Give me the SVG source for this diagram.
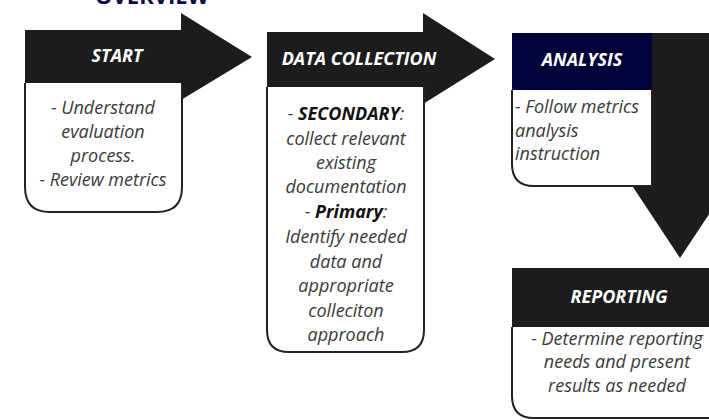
<svg xmlns="http://www.w3.org/2000/svg" width="709" height="420" viewBox="0 0 709 420">
<style>
.arrow{fill:#1c1c1c}
.navy{fill:#02023a}
.box{fill:#fff;stroke:#222;stroke-width:2}
.hd{font-family:"Open Sans","Liberation Sans",sans-serif;font-weight:bold;font-style:italic;font-size:18px;fill:#fff;text-anchor:middle}
.bd{font-family:"Open Sans","Liberation Sans",sans-serif;font-style:italic;font-size:18px;fill:#3a3a3a;text-anchor:middle}
.b{font-weight:bold;fill:#111}
.title{font-family:"Open Sans","Liberation Sans",sans-serif;font-weight:bold;font-size:22px;fill:#0b0b4a}
</style>
<rect width="709" height="420" fill="#fff"/>
<text class="title" x="95" y="4">OVERVIEW</text>
<g id="connectors">
<polygon id="arrow-start" class="arrow" points="25,30 181,30 181,13 252,57 181,100 181,83 25,83"/>
<polygon id="arrow-data" class="arrow" points="267,32 423,32 423,13 495,59 423,104 423,87 267,87"/>
<polygon id="arrow-analysis" class="arrow" points="652,33 709,33 709,187 727,187 680,258 633,187 652,187"/>
</g>
<g id="start">
<path class="box" d="M25,83 V187 Q25,212 50,212 H157 Q182,212 182,187 V83"/>
<text class="hd" x="117" y="62">START</text>
<text class="bd" x="103" y="114">- Understand</text>
<text class="bd" x="103" y="138">evaluation</text>
<text class="bd" x="103" y="162">process.</text>
<text class="bd" x="103" y="186">- Review metrics</text>
</g>
<g id="data-collection">
<path class="box" d="M267,87 V330 Q267,352 289,352 H402 Q424,352 424,330 V87"/>
<text class="hd" x="359" y="65">DATA COLLECTION</text>
<text class="bd" x="346" y="120">- <tspan class="b">SECONDARY</tspan>:</text>
<text class="bd" x="346" y="145">collect relevant</text>
<text class="bd" x="346" y="169">existing</text>
<text class="bd" x="346" y="193">documentation</text>
<text class="bd" x="346" y="218">- <tspan class="b">Primary</tspan>:</text>
<text class="bd" x="346" y="243">Identify needed</text>
<text class="bd" x="346" y="268">data and</text>
<text class="bd" x="346" y="292">appropriate</text>
<text class="bd" x="346" y="317">colleciton</text>
<text class="bd" x="346" y="341">approach</text>
</g>
<g id="analysis">
<rect class="navy" x="512" y="33" width="140" height="57"/>
<path class="box" d="M512,90 V164 Q512,186 534,186 H652 V90"/>
<text class="hd" x="582" y="66">ANALYSIS</text>
<text class="bd" x="515" y="113" style="text-anchor:start">- Follow metrics</text>
<text class="bd" x="515" y="137" style="text-anchor:start">analysis</text>
<text class="bd" x="515" y="160" style="text-anchor:start">instruction</text>
</g>
<g id="reporting">
<rect class="arrow" x="512" y="268" width="210" height="59"/>
<path class="box" d="M512,327 V396 Q512,418 534,418 H722 V327"/>
<text class="hd" x="619" y="303">REPORTING</text>
<text class="bd" x="617" y="345">- Determine reporting</text>
<text class="bd" x="617" y="368">needs and present</text>
<text class="bd" x="617" y="392">results as needed</text>
</g>
</svg>
